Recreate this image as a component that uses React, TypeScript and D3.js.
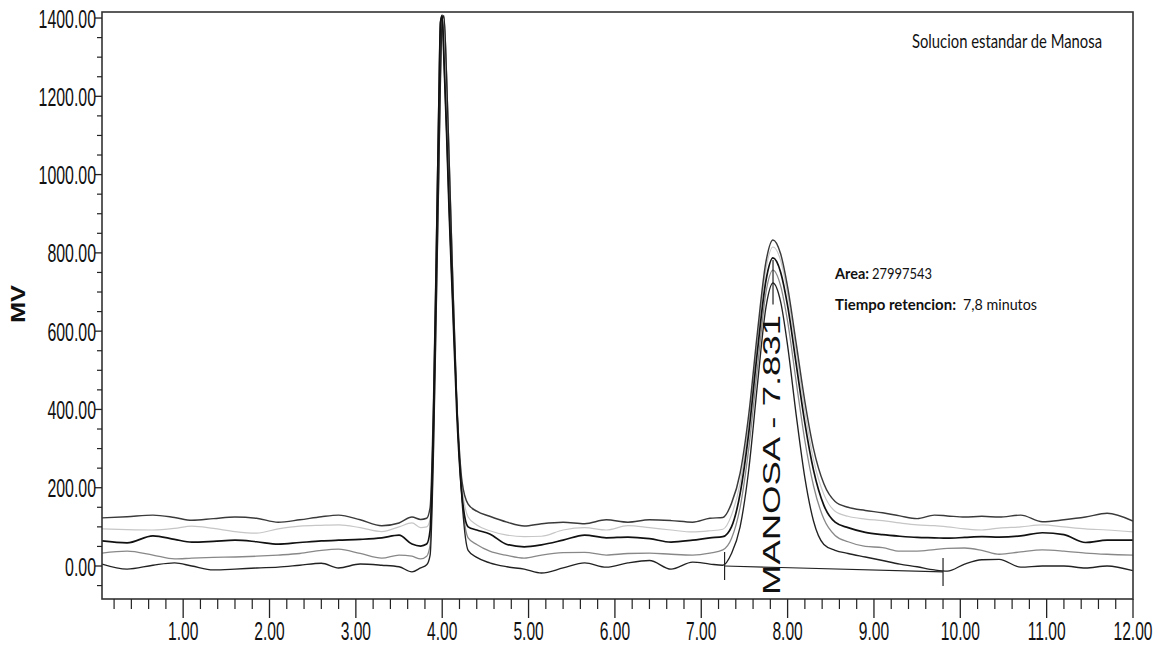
import React from "react";
import * as d3 from "d3";

// ---------- DATA ----------
const times = [
  0.06, 0.35, 0.65, 0.9, 1.1, 1.35, 1.6, 1.85, 2.1, 2.35,
  2.6, 2.8, 3.05, 3.3, 3.5, 3.65, 3.75, 3.82, 3.86, 3.9,
  3.93, 3.96, 3.98, 4.0, 4.02, 4.05, 4.08, 4.12, 4.17, 4.23,
  4.3, 4.4, 4.55, 4.75, 4.95, 5.15, 5.4, 5.65, 5.9, 6.15,
  6.4, 6.65, 6.9, 7.1, 7.25, 7.35, 7.45, 7.55, 7.65, 7.75,
  7.83, 7.92, 8.0, 8.1, 8.2, 8.3, 8.42, 8.55, 8.7, 8.9,
  9.1, 9.3, 9.5, 9.7, 9.85, 10.05, 10.25, 10.45, 10.7, 10.95,
  11.2, 11.45, 11.7, 12.0,
];

const injection1 = [
  123, 126, 130, 124, 117, 121, 125, 122, 112, 118,
  126, 130, 118, 103, 110, 125, 119, 122, 150, 430,
  790, 1180, 1390, 1408, 1300, 1120, 920, 690, 410, 215,
  158, 140, 127, 112, 102, 108, 112, 108, 118, 112,
  118, 116, 112, 122, 124, 160, 237, 387, 596, 778,
  833, 797, 713, 568, 420, 300, 210, 165, 150, 142,
  136, 128, 121, 130, 128, 125, 127, 125, 130, 113,
  118, 125, 135, 115,
];

const injection2 = [
  95, 93, 92, 96, 102, 96, 88, 84, 95, 102,
  104, 105, 98, 88, 100, 110, 98, 100, 120, 360,
  680, 1020, 1260, 1398, 1404, 1262, 1050, 760, 430, 205,
  125, 105, 90, 79, 75, 76, 92, 98, 92, 103,
  98, 92, 87, 90, 94, 130, 212, 365, 575, 760,
  815, 780, 695, 548, 395, 272, 183, 140, 127, 120,
  116, 110, 105, 103, 100, 95, 92, 97, 100, 105,
  100, 95, 92, 87,
];

const injection3 = [
  64, 59, 77, 68, 61, 63, 66, 62, 56, 60,
  64, 66, 68, 72, 79, 56, 51, 56, 92, 390,
  760, 1165, 1388, 1406, 1295, 1110, 905, 675, 385, 178,
  100, 92, 82, 55, 49, 54, 66, 79, 72, 74,
  70, 61, 66, 72, 75, 100, 185, 340, 548, 730,
  787, 750, 665, 515, 365, 245, 155, 112, 98, 86,
  80, 76, 73, 72, 71, 73, 75, 74, 77, 85,
  80, 60, 66, 66,
];

const injection4 = [
  33, 38, 28, 18, 20, 22, 23, 25, 28, 32,
  40, 43, 32, 20, 28, 25, 18, 25, 55, 320,
  650, 1000, 1250, 1396, 1402, 1258, 1045, 750, 415, 175,
  72, 55, 38, 27, 20, 28, 34, 35, 28, 32,
  33, 30, 28, 33, 41, 70, 150, 300, 505, 700,
  756, 715, 625, 470, 320, 205, 120, 78, 62, 50,
  47, 38, 38, 42, 45, 46, 40, 30, 36, 41,
  38, 33, 30, 28,
];

const injection5 = [
  5, -8, 2, 8, 0, -10, -8, -5, -3, 2,
  7, -5, 5, 2, -2, -15, -5, 3, 28, 300,
  640, 995, 1245, 1394, 1406, 1255, 1040, 745, 410, 165,
  40, 22, 8, -2, -8, -18, -5, 8, -3, 8,
  14, -8, 10, 5, 2, 32, 100, 246, 462, 662,
  723, 674, 563, 385, 225, 115, 55, 40, 32, 23,
  14, 5, -2, -10, -13, 5, 16, 17, -3, 0,
  0, -5, 0, -12,
];

const xMajorTicks = [1, 2, 3, 4, 5, 6, 7, 8, 9, 10, 11, 12];
const xTickLabels = ["1.00", "2.00", "3.00", "4.00", "5.00", "6.00", "7.00", "8.00", "9.00", "10.00", "11.00", "12.00"];
const yMajorTicks = [0, 200, 400, 600, 800, 1000, 1200, 1400];
const yTickLabels = ["0.00", "200.00", "400.00", "600.00", "800.00", "1000.00", "1200.00", "1400.00"];

const yAxisTitle = "MV";
const peakName = "MANOSA";
const peakRT = 7.831;
const peakMarkerValues = [668, 782];
const integrationTimes = [7.27, 9.8];
const integrationValues = [0, -15];

const titleText = "Solucion estandar de Manosa";
const areaLabel = "Area:";
const areaValue = "27997543";
const rtLabel = "Tiempo retencion:";
const rtValue = "7,8 minutos";

// ---------- STYLES ----------
const traces = [
  { values: injection2, color: "#c6c6c6", width: 1.2 },
  { values: injection4, color: "#888888", width: 1.3 },
  { values: injection1, color: "#3a3a3a", width: 1.45 },
  { values: injection5, color: "#222222", width: 1.35 },
  { values: injection3, color: "#111111", width: 1.7 },
];

const PL = 102, PR = 1133, PT = 12, PB = 599;

export default function App() {
  const x = d3.scaleLinear().domain([0.06, 12]).range([PL, PR]);
  const y = d3.scaleLinear().domain([-84.3, 1415.4]).range([PB, PT]);

  const line = d3
    .line<number>()
    .x((_, i) => x(times[i]))
    .y((d) => y(d))
    .curve(d3.curveMonotoneX);

  const xMinor = d3.range(0.2, 12.0001, 0.2).filter((t) => Math.abs(t - Math.round(t)) > 0.01);
  const yMinor = d3.range(-50, 1401, 50).filter((v) => v % 200 !== 0);

  const tickFont = "'Liberation Sans', Arial, sans-serif";
  const annFont = "Lato, 'Open Sans', sans-serif";

  const baseLine = d3
    .line<number>()
    .x((_, i) => x(integrationTimes[i]))
    .y((d) => y(d));

  return (
    <div style={{ position: "absolute", left: 0, top: 0, width: 1158, height: 647, background: "#fff" }}>
      <svg width={1158} height={647} style={{ display: "block" }}>
        <defs>
          <clipPath id="plotClip">
            <rect x={PL} y={PT} width={PR - PL} height={PB - PT} />
          </clipPath>
        </defs>
        <rect x={0} y={0} width={1158} height={647} fill="#fff" />

        {/* traces */}
        <g clipPath="url(#plotClip)" fill="none" strokeLinejoin="round">
          {traces.map((t, i) => (
            <path key={i} d={line(t.values) || ""} stroke={t.color} strokeWidth={t.width} />
          ))}
          <path d={baseLine(integrationValues) || ""} stroke="#222" strokeWidth={1.2} />
        </g>

        {/* integration ticks */}
        {integrationTimes.map((t, i) => (
          <line
            key={i}
            x1={x(t)}
            x2={x(t)}
            y1={y(integrationValues[i]) - 14}
            y2={y(integrationValues[i]) + 14}
            stroke="#222"
            strokeWidth={1.2}
          />
        ))}

        {/* peak marker */}
        <line
          x1={x(peakRT)}
          x2={x(peakRT)}
          y1={y(peakMarkerValues[0])}
          y2={y(peakMarkerValues[1])}
          stroke="#222"
          strokeWidth={1.2}
        />
        <text
          transform={`translate(${x(peakRT) + 7},${PB - 4}) rotate(-90)`}
          fontFamily={tickFont}
          fontSize={23.5}
          textLength={280}
          lengthAdjust="spacingAndGlyphs"
          fill="#111"
        >
          {`${peakName} - ${peakRT.toFixed(3)}`}
        </text>

        {/* frame */}
        <rect x={PL} y={PT} width={PR - PL} height={PB - PT} fill="none" stroke="#333" strokeWidth={1.6} />

        {/* y ticks */}
        {yMajorTicks.map((v, i) => (
          <g key={"ym" + i}>
            <line x1={PL - 7} x2={PL} y1={y(v)} y2={y(v)} stroke="#222" strokeWidth={1.3} />
            <text
              transform={`translate(${PL - 6},${y(v) + 9.5}) scale(0.6,1)`}
              textAnchor="end"
              fontFamily={tickFont}
              fontSize={26.5}
              fill="#111"
            >
              {yTickLabels[i]}
            </text>
          </g>
        ))}
        {yMinor.map((v, i) => (
          <line key={"yn" + i} x1={PL - 5} x2={PL} y1={y(v)} y2={y(v)} stroke="#222" strokeWidth={1.2} />
        ))}

        {/* x ticks */}
        {xMajorTicks.map((v, i) => (
          <g key={"xm" + i}>
            <line x1={x(v)} x2={x(v)} y1={PB} y2={PB + 19} stroke="#222" strokeWidth={1.3} />
            <text
              transform={`translate(${x(v)},${PB + 41}) scale(0.6,1)`}
              textAnchor="middle"
              fontFamily={tickFont}
              fontSize={26}
              fill="#111"
            >
              {xTickLabels[i]}
            </text>
          </g>
        ))}
        {xMinor.map((v, i) => (
          <line key={"xn" + i} x1={x(v)} x2={x(v)} y1={PB} y2={PB + 10} stroke="#222" strokeWidth={1.2} />
        ))}

        {/* y axis title */}
        <text
          transform={`translate(25,304) rotate(-90)`}
          textAnchor="middle"
          fontFamily={tickFont}
          fontWeight="bold"
          fontSize={20}
          textLength={38}
          lengthAdjust="spacingAndGlyphs"
          fill="#111"
        >
          {yAxisTitle}
        </text>

        {/* annotations */}
        <text x={912} y={48} fontFamily={annFont} fontSize={19} textLength={190} lengthAdjust="spacingAndGlyphs" fill="#111">
          {titleText}
        </text>
        <text x={835} y={279} fontFamily={annFont} fontSize={16} fontWeight="bold" textLength={34} lengthAdjust="spacingAndGlyphs" fill="#111">
          {areaLabel}
        </text>
        <text x={872} y={279} fontFamily={annFont} fontSize={16} textLength={60} lengthAdjust="spacingAndGlyphs" fill="#111">
          {areaValue}
        </text>
        <text x={835} y={310} fontFamily={annFont} fontSize={15.5} fontWeight="bold" textLength={121} lengthAdjust="spacingAndGlyphs" fill="#111">
          {rtLabel}
        </text>
        <text x={963} y={310} fontFamily={annFont} fontSize={16} textLength={74} lengthAdjust="spacingAndGlyphs" fill="#111">
          {rtValue}
        </text>
      </svg>
    </div>
  );
}
